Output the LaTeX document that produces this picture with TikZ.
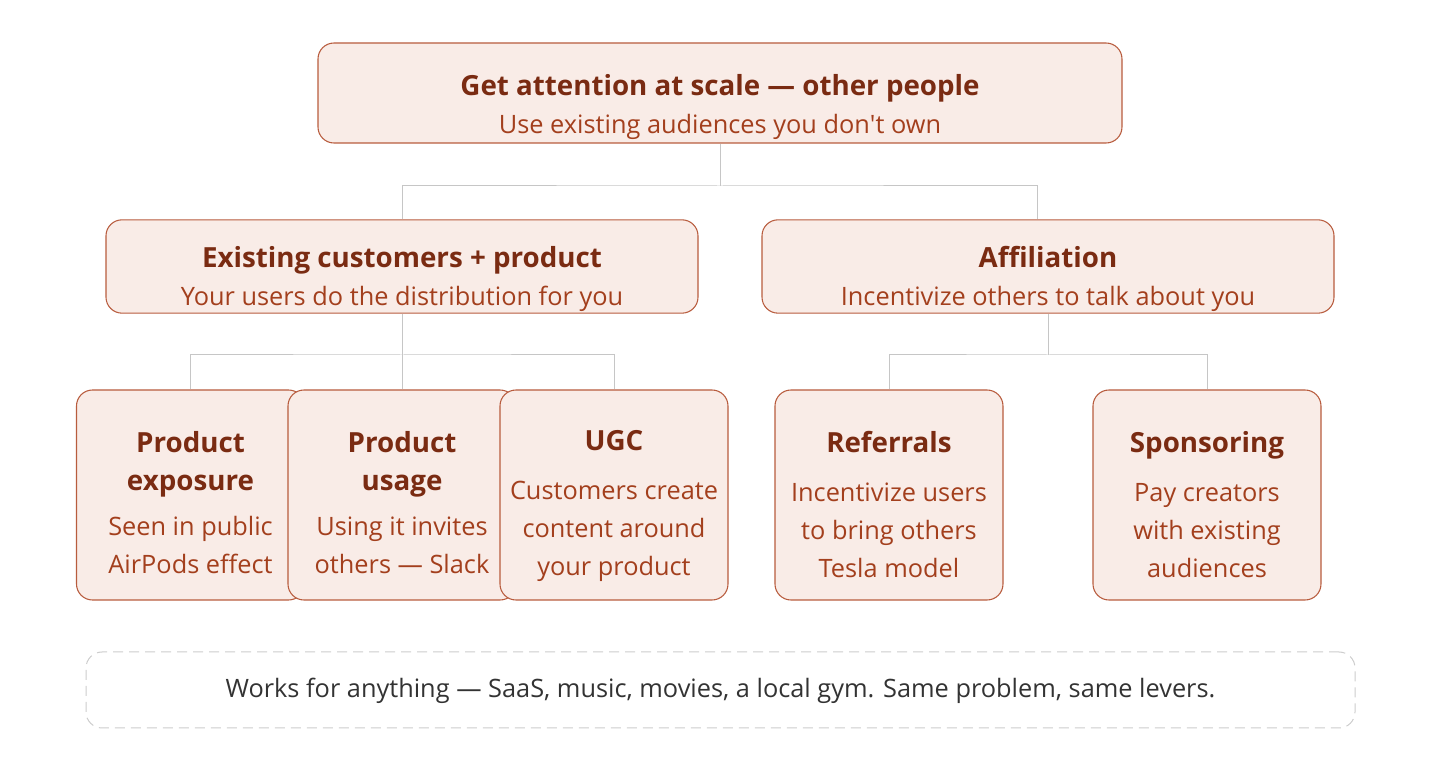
\documentclass[tikz,border=0pt]{standalone}
\usepackage{fontspec}
\setmainfont{Open Sans}
\usetikzlibrary{positioning}

\definecolor{cardfill}{HTML}{F9ECE7}
\definecolor{cardline}{HTML}{B85C3E}
\definecolor{headtext}{HTML}{7A2B12}
\definecolor{subtext}{HTML}{A33F1D}
\definecolor{wiregray}{HTML}{C6C6C6}
\definecolor{notetext}{HTML}{333333}
\definecolor{noteline}{HTML}{CCCCCC}

\newcommand{\headtx}{\color{headtext}\fontsize{20.8}{29}\bfseries\selectfont}
\newcommand{\subtx}{\color{subtext}\fontsize{19}{28.5}\selectfont}

\tikzset{
  card/.style={draw=cardline, fill=cardfill, line width=0.8pt, rounded corners=12pt,
    inner sep=0pt},
  leaf/.style={card, minimum width=171pt, minimum height=157.5pt},
  cardtext/.style={inner sep=0pt, align=center, font=\fontsize{19}{28.5}\selectfont},
  wire/.style={draw=wiregray, line width=0.75pt},
}

\begin{document}
\begin{tikzpicture}[x=0.75pt, y=-0.75pt]
    \useasboundingbox (0,0) rectangle (1440,762);

    % draw top box
    \node[card, minimum width=603pt, minimum height=75pt] (top) at (720,93) {};
    \node[cardtext] (toptx) at ([yshift=-10.5pt]top.center)
      {{\headtx Get attention at scale --- other people}\\{\subtx Use existing audiences you don\textquotesingle t own}};

    % draw middle boxes
    \node[card, minimum width=444pt, minimum height=70pt] (custs) at (402,266.5) {};
    \node[cardtext] (custstx) at ([yshift=-9.5pt]custs.center)
      {{\headtx Existing customers + product}\\{\subtx Your users do the distribution for you}};
    \node[card, minimum width=429pt, minimum height=70pt] (affil) at (1048,266.5) {};
    \node[cardtext] (affiltx) at ([yshift=-9.5pt]affil.center)
      {{\headtx Affiliation}\\{\subtx Incentivize others to talk about you}};

    % draw connectors
    \coordinate (tj) at (720,186);
    \draw[wire] (top.south) -- (tj);
    \draw[wire] (custs.north) |- (tj) -| ([xshift=-8.25pt]affil.north);

    \coordinate (cj) at (402,355);
    \coordinate (aj) at (1048,355);
    \draw[wire] (custs.south) -- (cj);
    \draw[wire] (affil.south) -- (aj);

    % draw bottom boxes
    \node[leaf] (expo) at (190.5,495) {};
    \node[cardtext] (expotx) at ([yshift=-5.5pt]expo.center)
      {{\headtx Product}\\{\headtx exposure}\\[5pt]{\subtx Seen in public}\\{\subtx AirPods effect}};
    \node[leaf] (usage) at (402,495) {};
    \node[cardtext] (usagetx) at ([yshift=-5.5pt]usage.center)
      {{\headtx Product}\\{\headtx usage}\\[5pt]{\subtx Using it invites}\\{\subtx others --- Slack}};
    \node[leaf] (ugc) at (614,495) {};
    \node[cardtext] (ugctx) at ([yshift=-8.5pt]ugc.center)
      {{\headtx UGC}\\[8pt]{\subtx Customers create}\\{\subtx content around}\\{\subtx your product}};
    \node[leaf] (refs) at (889,495) {};
    \node[cardtext] (refstx) at ([yshift=-7pt]refs.center)
      {{\headtx Referrals}\\[8pt]{\subtx Incentivize users}\\{\subtx to bring others}\\{\subtx Tesla model}};
    \node[leaf] (spons) at (1207,495) {};
    \node[cardtext] (sponstx) at ([yshift=-7pt]spons.center)
      {{\headtx Sponsoring}\\[8pt]{\subtx Pay creators}\\{\subtx with existing}\\{\subtx audiences}};

    \draw[wire] (expo.north) |- (cj) -| (ugc.north);
    \draw[wire] (usage.north) -- (cj);
    \draw[wire] (refs.north) |- (aj) -| (spons.north);

    % draw note
    \node[draw=noteline, line width=0.75pt, dash pattern=on 7.5pt off 4.5pt, rounded corners=12pt,
      minimum width=951.75pt, minimum height=57pt, inner sep=0pt] (note) at (720.5,690) {};
    \node[inner sep=0pt] (notetx) at ([yshift=-1pt]note.center)
      {\color{notetext}\fontsize{19}{22}\selectfont Works for anything --- SaaS, music, movies, a local gym. Same problem, same levers.};
\end{tikzpicture}
\end{document}
